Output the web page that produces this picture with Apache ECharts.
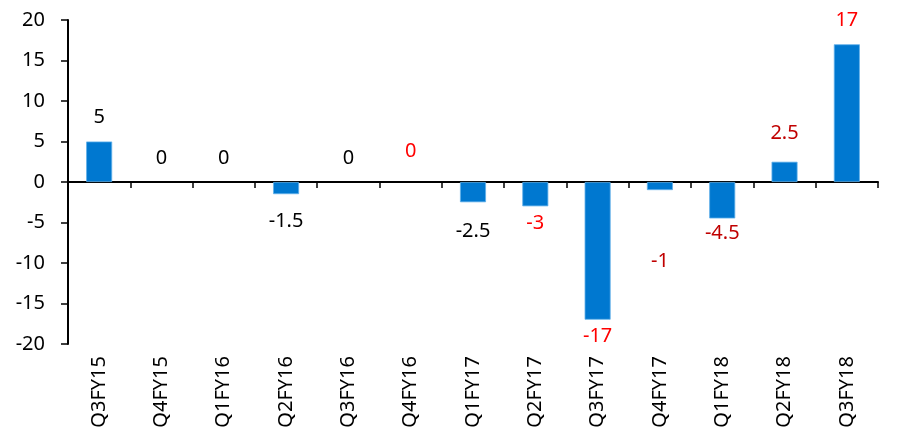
<!DOCTYPE html>
<html><head><meta charset="utf-8">
<script src="https://cdn.jsdelivr.net/npm/echarts@6/dist/echarts.min.js"></script>
<style>html,body{margin:0;padding:0;background:#fff}#c{width:898px;height:438px}</style>
</head><body><div id="c"></div>
<script>
var categories = ['Q3FY15','Q4FY15','Q1FY16','Q2FY16','Q3FY16','Q4FY16','Q1FY17','Q2FY17','Q3FY17','Q4FY17','Q1FY18','Q2FY18','Q3FY18'];
var values = [5, 0, 0, -1.5, 0, 0, -2.5, -3, -17, -1, -4.5, 2.5, 17];
var yTicks = [-20, -15, -10, -5, 0, 5, 10, 15, 20];

// label styling per bar
var labelColors = ['#000','#000','#000','#000','#000','#ff0000','#000','#ff0000','#ff0000','#c00000','#c00000','#c00000','#ff0000'];
var labelDist = [14, 14, 14, 17, 14, 21, 19, 7, 7, 61, 5, 18, 14];

var font = 'Noto Sans';
var chart = echarts.init(document.getElementById('c'));
chart.setOption({
  animation: false,
  grid: {left: 68, right: 20, top: 20, bottom: 94},
  xAxis: [{
    type: 'category', data: categories, position: 'bottom',
    axisLine: {show: false, onZero: false}, axisTick: {show: false},
    axisLabel: {rotate: 90, margin: 12, color: '#000', fontFamily: font, fontSize: 20}
  }, {
    type: 'category', data: categories, position: 'bottom',
    axisLine: {show: true, onZero: true, lineStyle: {color: '#000', width: 2}},
    axisTick: {show: true, inside: false, length: 6, lineStyle: {color: '#000', width: 1.5}},
    axisLabel: {show: false}
  }],
  yAxis: {
    type: 'value', min: yTicks[0], max: yTicks[yTicks.length - 1], interval: 5,
    axisLine: {show: true, lineStyle: {color: '#000', width: 2}},
    axisTick: {show: true, length: 7, lineStyle: {color: '#000', width: 1.5}},
    splitLine: {show: false},
    axisLabel: {color: '#000', fontFamily: font, fontSize: 20, margin: 23}
  },
  series: [{
    type: 'bar', xAxisIndex: 0, barWidth: 26,
    data: values.map(function (v, i) {
      return {
        value: v,
        itemStyle: v === 0 ? {color: 'rgba(0,0,0,0)', borderWidth: 0} :
          {color: '#0078d0', borderColor: '#5fb0ea', borderWidth: 0.8},
        label: {
          show: true,
          position: v < 0 ? 'bottom' : 'top',
          distance: labelDist[i],
          color: labelColors[i],
          fontFamily: font, fontSize: 20
        }
      };
    })
  }]
});
</script></body></html>
